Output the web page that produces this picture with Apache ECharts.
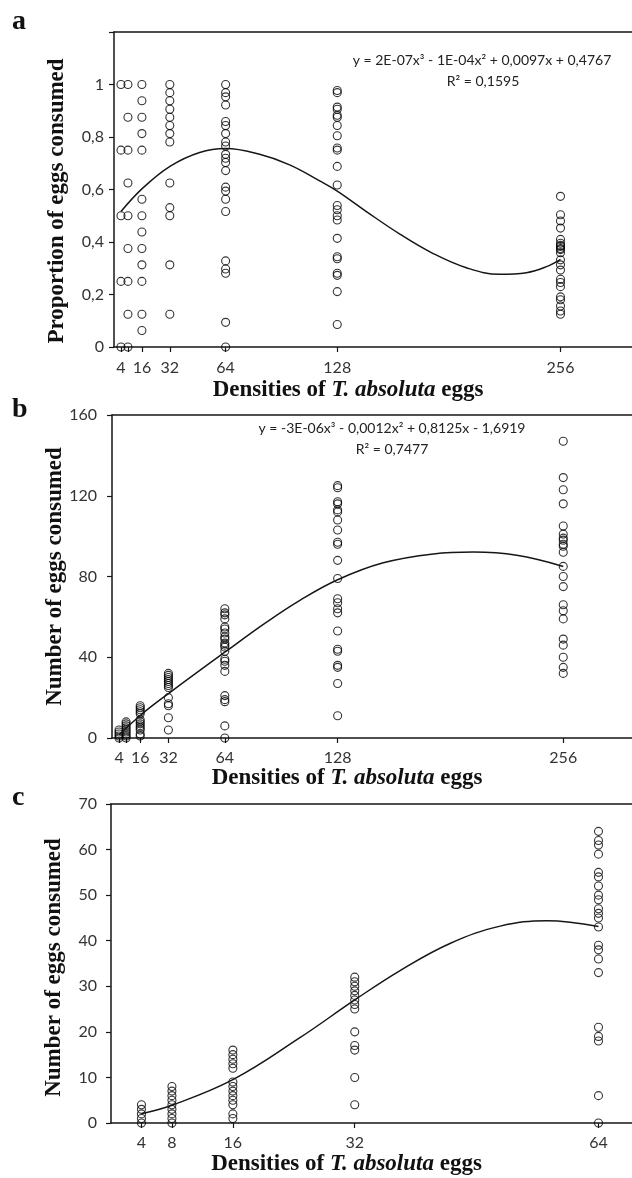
<!DOCTYPE html>
<html>
<head>
<meta charset="utf-8">
<title>Egg consumption by density of T. absoluta eggs</title>
<script src="https://cdn.jsdelivr.net/npm/echarts@6/dist/echarts.min.js"></script>
<style>
  html, body { margin: 0; padding: 0; background: #fff; }
  #chart { width: 632px; height: 1178px; }
</style>
</head>
<body>
<div id="chart"></div>
<script>
// ---- Egg densities offered (x positions) ----
const densitiesAB = [4, 8, 16, 32, 64, 128, 256];
const densitiesC = [4, 8, 16, 32, 64];
const tickLabelsAB = [4, 16, 32, 64, 128, 256];
const tickLabelsC = [4, 8, 16, 32, 64];

// ---- Panel a: proportion of eggs consumed per replicate ----
const propAt4 = [1, 0.75, 0.5, 0.25, 0];
const propAt8 = [1, 0.875, 0.75, 0.625, 0.5, 0.375, 0.25, 0.125, 0];
const propAt16 = [1, 0.938, 0.875, 0.813, 0.75, 0.563, 0.5, 0.438, 0.375, 0.313, 0.25, 0.125, 0.063];
const propAt32 = [1, 0.969, 0.938, 0.906, 0.875, 0.844, 0.813, 0.781, 0.625, 0.531, 0.5, 0.313, 0.125];
const propAt64 = [1, 0.969, 0.953, 0.922, 0.859, 0.844, 0.813, 0.781, 0.766, 0.734, 0.719, 0.703,
                  0.672, 0.609, 0.594, 0.563, 0.516, 0.328, 0.297, 0.281, 0.094, 0];
const propAt128 = [0.977, 0.969, 0.914, 0.906, 0.883, 0.875, 0.844, 0.805, 0.758, 0.75, 0.688, 0.617,
                   0.539, 0.523, 0.5, 0.484, 0.414, 0.344, 0.336, 0.281, 0.273, 0.211, 0.086];
const propAt256 = [0.574, 0.504, 0.48, 0.453, 0.41, 0.395, 0.387, 0.383, 0.375, 0.371, 0.359, 0.332,
                   0.313, 0.293, 0.258, 0.246, 0.23, 0.191, 0.18, 0.156, 0.137, 0.125];

// ---- Panels b and c: number of eggs consumed per replicate ----
const eatenAt4 = [0, 1, 2, 3, 4];
const eatenAt8 = [0, 1, 2, 3, 4, 5, 6, 7, 8];
const eatenAt16 = [16, 15, 14, 13, 12, 9, 8, 7, 6, 5, 4, 2, 1];
const eatenAt32 = [32, 31, 30, 29, 28, 27, 26, 25, 20, 17, 16, 10, 4];
const eatenAt64 = [64, 62, 61, 59, 55, 54, 52, 50, 49, 47, 46, 45, 43, 39, 38, 36, 33, 21, 19, 18, 6, 0];
const eatenAt128 = [125, 124, 117, 116, 113, 112, 108, 103, 97, 96, 88, 79, 69, 67, 64, 62, 53, 44, 43,
                    36, 35, 27, 11];
const eatenAt256 = [147, 129, 123, 116, 105, 101, 99, 98, 96, 95, 92, 85, 80, 75, 66, 63, 59, 49, 46,
                    40, 35, 32];

// ---- Fitted polynomial trend lines (density, fitted value) ----
const fitAx = [4, 16.6, 32.3, 49.1, 64, 83.5, 100.7, 117.9, 128, 144.7, 163.9, 183, 202, 221, 236.5, 248, 256];
const fitAy = [0.516, 0.606, 0.689, 0.741, 0.756, 0.734, 0.694, 0.633, 0.594, 0.516, 0.43, 0.356, 0.302, 0.277, 0.283, 0.306, 0.334];
const fitBx = [4, 17.7, 32.8, 64, 87.7, 106.6, 128, 153.9, 182.3, 205, 229.6, 256];
const fitBy = [1.6, 12.4, 22.5, 42.5, 57.4, 68.2, 78.4, 86.8, 91.2, 92.1, 90.5, 85];
const fitCx = [4, 8, 16, 24.7, 32, 37.9, 44.5, 51.1, 57.2, 64];
const fitCy = [2.05, 3.9, 9.5, 18.6, 27, 33.4, 39.4, 43.2, 44.4, 43.1];

// ---- Equation annotations ----
const eqA = ['y = 2E-07x³ - 1E-04x² + 0,0097x + 0,4767', 'R² = 0,1595'];
const eqB = ['y = -3E-06x³ - 0,0012x² + 0,8125x - 1,6919', 'R² = 0,7477'];

// ---- helpers ----
function pairs(groups, xs) {
  const out = [];
  groups.forEach((vals, i) => vals.forEach(v => out.push([xs[i], v])));
  return out;
}
function zip(xs, ys) { return xs.map((x, i) => [x, ys[i]]); }

const ink = '#161616';
const tickFont = { fontFamily: 'Lato', fontSize: 16, color: '#333' };
const serifBold = { fontFamily: 'Liberation Serif', fontWeight: 'bold', fontSize: 23, color: '#111' };

function bottomAxis(gridIndex, max, ticks, labels, margin, gap) {
  return {
    type: 'value', gridIndex, min: 0, max, position: 'bottom',
    axisLine: { show: true, onZero: false, lineStyle: { color: ink, width: 1.5 } },
    axisTick: { show: true, length: 5, customValues: ticks, lineStyle: { color: ink, width: 1.2 } },
    axisLabel: { show: true, customValues: labels, margin, ...tickFont },
    splitLine: { show: false },
    name: '{b|Densities of }{i|T. absoluta}{b| eggs}',
    nameLocation: 'middle', nameGap: gap, nameMoveOverlap: false,
    nameTextStyle: {
      padding: [0, 50, 0, 0],
      rich: { b: { ...serifBold }, i: { ...serifBold, fontStyle: 'italic' } }
    }
  };
}
function topAxis(gridIndex, max) {
  return {
    type: 'value', gridIndex, min: 0, max, position: 'top',
    axisLine: { show: true, onZero: false, lineStyle: { color: ink, width: 1.5 } },
    axisTick: { show: false }, axisLabel: { show: false }, splitLine: { show: false }
  };
}
function leftAxis(gridIndex, max, interval, name, margin, pad, fmt) {
  return {
    type: 'value', gridIndex, min: 0, max, interval,
    axisLine: { show: true, onZero: false, lineStyle: { color: ink, width: 1.5 } },
    axisTick: { show: true, length: 5, lineStyle: { color: ink, width: 1.2 } },
    axisLabel: { margin, ...tickFont, formatter: fmt },
    splitLine: { show: false },
    name, nameLocation: 'middle', nameGap: 45, nameMoveOverlap: false,
    nameTextStyle: { ...serifBold, padding: [0, pad, 0, 0] }
  };
}

const circleStyle = { color: 'rgba(0,0,0,0)', borderColor: '#000', borderWidth: 1.1 };
function scatter(i, data) {
  return { type: 'scatter', xAxisIndex: i * 2, yAxisIndex: i, data, symbol: 'circle', symbolSize: 8,
           itemStyle: circleStyle, silent: true, z: 3 };
}
function curve(i, data) {
  return { type: 'line', xAxisIndex: i * 2, yAxisIndex: i, data, smooth: 0.4, showSymbol: false,
           lineStyle: { color: ink, width: 1.5 }, silent: true, z: 4 };
}

const propFormatter = v => (v > 1.0001 ? '' : String(+v.toFixed(1)).replace('.', ','));

function eqText(x, y, text) {
  return { type: 'text', x, y, silent: true,
           style: { text, fill: '#222', font: '14px Lato', align: 'center', verticalAlign: 'middle' } };
}
function panelLetter(y, text) {
  return { type: 'text', x: 12, y, silent: true,
           style: { text, fill: '#111', font: 'bold 28px "Liberation Serif"', verticalAlign: 'middle' } };
}

const option = {
  animation: false,
  backgroundColor: '#fff',
  grid: [
    { left: 114, right: 0, top: 32, bottom: 831, outerBoundsMode: 'none' },
    { left: 112, right: 0, top: 415, bottom: 440, outerBoundsMode: 'none' },
    { left: 111, right: 0, top: 804, bottom: 55, outerBoundsMode: 'none' }
  ],
  xAxis: [
    bottomAxis(0, 297, densitiesAB, tickLabelsAB, 13, 32), topAxis(0, 297),
    bottomAxis(1, 295, densitiesAB, tickLabelsAB, 12, 29), topAxis(1, 295),
    bottomAxis(2, 68.4, densitiesC, tickLabelsC, 12, 30), topAxis(2, 68.4)
  ],
  yAxis: [
    leftAxis(0, 1.2, 0.2, 'Proportion of eggs consumed', 10, 23, propFormatter),
    leftAxis(1, 160, 40, 'Number of eggs consumed', 15, 0),
    leftAxis(2, 70, 10, 'Number of eggs consumed', 14, 8)
  ],
  series: [
    scatter(0, pairs([propAt4, propAt8, propAt16, propAt32, propAt64, propAt128, propAt256], densitiesAB)),
    curve(0, zip(fitAx, fitAy)),
    scatter(1, pairs([eatenAt4, eatenAt8, eatenAt16, eatenAt32, eatenAt64, eatenAt128, eatenAt256], densitiesAB)),
    curve(1, zip(fitBx, fitBy)),
    scatter(2, pairs([eatenAt4, eatenAt8, eatenAt16, eatenAt32, eatenAt64], densitiesC)),
    curve(2, zip(fitCx, fitCy))
  ],
  graphic: [
    panelLetter(22, 'a'), panelLetter(410, 'b'), panelLetter(798, 'c'),
    eqText(482, 60, eqA[0]), eqText(483, 81, eqA[1]),
    eqText(392, 428, eqB[0]), eqText(392, 449, eqB[1])
  ]
};

const chart = echarts.init(document.getElementById('chart'), null, { renderer: 'canvas' });
chart.setOption(option);
</script>
</body>
</html>
